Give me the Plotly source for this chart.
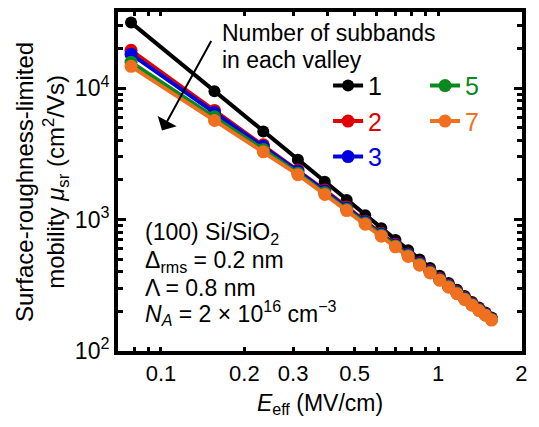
import plotly.graph_objects as go

E_eff = [0.078, 0.156, 0.234, 0.312, 0.390, 0.468, 0.546, 0.624, 0.702, 0.780,
         0.858, 0.936, 1.014, 1.092, 1.170, 1.248, 1.326, 1.404, 1.482, 1.560]
mu_1 = [31500, 9450, 4680, 2850, 1940, 1410, 1080, 860, 700, 585,
        497, 428, 373, 329, 292, 262, 236, 214, 196, 180]
mu_2 = [19370, 6760, 3700, 2380, 1678, 1248, 972, 787, 648, 547,
        470, 407, 356, 316, 282, 254, 229, 209, 192, 176]
mu_3 = [18110, 6520, 3604, 2337, 1649, 1227, 961, 778, 641, 541,
        465, 402, 352, 313, 279, 252, 227, 207, 190, 175]
mu_5 = [15750, 6048, 3416, 2252, 1600, 1199, 940, 761, 630, 532,
        457, 398, 349, 309, 276, 249, 225, 205, 188, 174]
mu_7 = [14650, 5670, 3276, 2195, 1552, 1170, 923, 748, 620, 524,
        450, 392, 345, 306, 273, 246, 223, 203, 187, 172]

series = [("1", mu_1, "#000000", "legend", 12),
          ("2", mu_2, "#e00000", "legend", 13),
          ("3", mu_3, "#0000e0", "legend", 13),
          ("5", mu_5, "#0a8a1e", "legend2", 13),
          ("7", mu_7, "#f07020", "legend2", 13)]

x_tickvals = [0.1, 0.2, 0.3, 0.5, 1, 2]
x_ticktext = ["0.1", "0.2", "0.3", "0.5", "1", "2"]
x_minor = [0.08, 0.09, 0.4, 0.6, 0.7, 0.8, 0.9]
y_tickvals = [100, 1000, 10000]
y_ticktext = ["10<sup>2</sup>", "10<sup>3</sup>", "10<sup>4</sup>"]
y_minor = [200, 300, 400, 500, 600, 700, 800, 900,
           2000, 3000, 4000, 5000, 6000, 7000, 8000, 9000, 20000, 30000]

FONT = "Liberation Sans, Arial, sans-serif"

fig = go.Figure()
for name, mu, col, leg, msize in series:
    fig.add_trace(go.Scatter(
        x=E_eff, y=mu, mode="lines+markers",
        name=f'<span style="color:{col}">{name}</span>',
        line=dict(color=col, width=4),
        marker=dict(color=col, size=msize),
        legend=leg, legendgroup=name,
    ))

xr = [-1.155, 0.303]
yr = [2.0, 4.579]

fig.update_layout(
    width=539, height=427,
    margin=dict(l=118, r=17, t=8, b=76),
    paper_bgcolor="white", plot_bgcolor="white",
    font=dict(family=FONT, size=22, color="black"),
    xaxis=dict(type="log", range=xr, showgrid=False, zeroline=False,
               showline=True, linewidth=4, linecolor="black", mirror="allticks",
               ticks="inside", ticklen=4, tickwidth=3, tickcolor="black",
               tickmode="array", tickvals=x_tickvals, ticktext=x_ticktext,
               tickfont=dict(size=22),
               minor=dict(ticks="inside", ticklen=4, tickwidth=3, tickcolor="black",
                          tickmode="array", tickvals=x_minor),
               title=dict(text="<i>E</i><sub>eff</sub> (MV/cm)", font=dict(size=23), standoff=10)),
    yaxis=dict(type="log", range=yr, showgrid=False, zeroline=False,
               showline=True, linewidth=4, linecolor="black", mirror="allticks",
               ticks="inside", ticklen=8, tickwidth=3, tickcolor="black",
               tickmode="array", tickvals=y_tickvals, ticktext=y_ticktext,
               tickfont=dict(size=23),
               minor=dict(ticks="inside", ticklen=5, tickwidth=3, tickcolor="black",
                          tickmode="array", tickvals=y_minor)),
    legend=dict(x=0.52, y=0.85, xanchor="left", yanchor="top",
                font=dict(size=25), bgcolor="rgba(0,0,0,0)", tracegroupgap=0),
    legend2=dict(x=0.76, y=0.85, xanchor="left", yanchor="top",
                 font=dict(size=25), bgcolor="rgba(0,0,0,0)", tracegroupgap=0),
    showlegend=True,
)

def px_x(p):
    return (p - 118) / 404.0

def px_y(p):
    return (351 - p) / 343.0

annos = [
    ("Number of subbands", 220, 29),
    ("in each valley", 220, 57),
    ("(100) Si/SiO<sub>2</sub>", 143, 232),
    ("Δ<sub>rms</sub> = 0.2 nm", 143, 260),
    ("Λ = 0.8 nm", 143, 287),
    ("<i>N<sub>A</sub></i> = 2 × 10<sup>16</sup> cm<sup>−3</sup>", 143, 313),
]
for txt, x, y in annos:
    fig.add_annotation(text=txt, xref="paper", yref="paper", x=px_x(x), y=px_y(y),
                       xanchor="left", yanchor="middle", showarrow=False,
                       font=dict(size=23, family=FONT))

fig.add_annotation(text="Surface-roughness-limited<br>mobility <i>μ</i><sub>sr</sub> (cm<sup>2</sup>/Vs)",
                   xref="paper", yref="paper", x=px_x(42), y=px_y(180),
                   xanchor="center", yanchor="middle", textangle=-90, showarrow=False,
                   font=dict(size=24, family=FONT))

fig.add_annotation(text="", xref="paper", yref="paper", x=px_x(162), y=px_y(128),
                   ax=50, ay=-91, axref="pixel", ayref="pixel",
                   showarrow=True, arrowhead=1, arrowsize=1.8, arrowwidth=2, arrowcolor="black")

fig.write_html("out.html")
